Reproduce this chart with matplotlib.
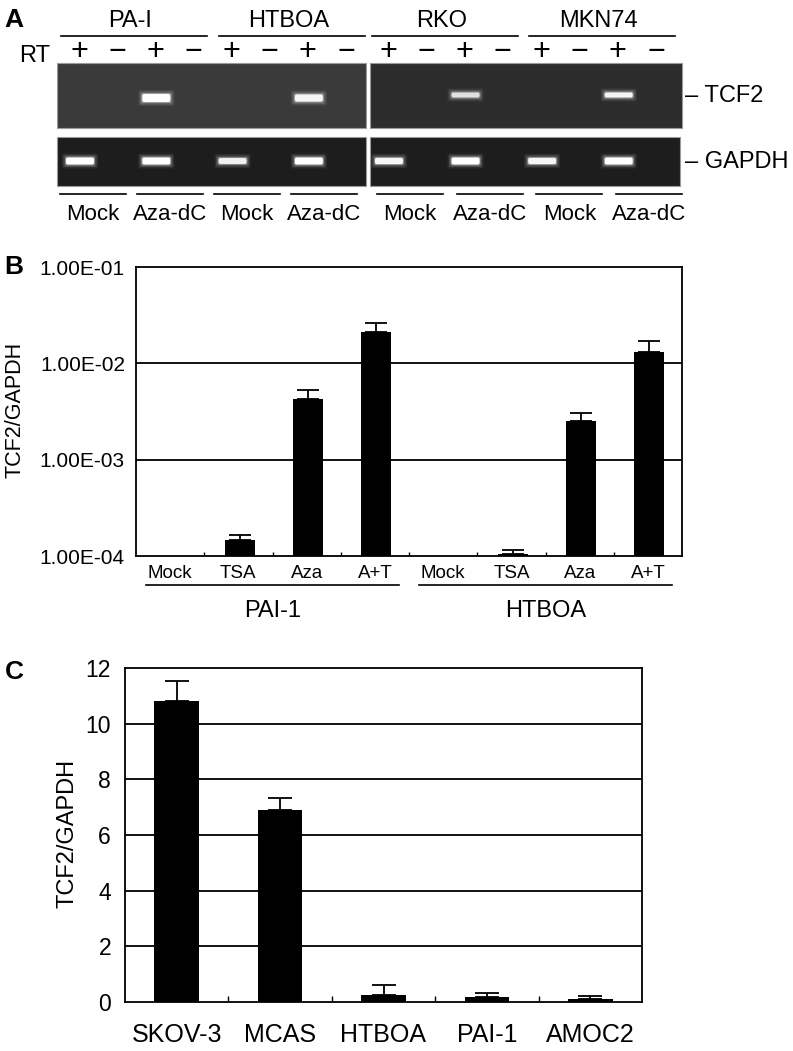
import numpy as np
import matplotlib
matplotlib.use("Agg")
import matplotlib.pyplot as plt
from matplotlib.patches import Rectangle, FancyBboxPatch

plt.rcParams['font.family'] = ['Liberation Sans', 'DejaVu Sans']

# ---- panel A: gel (band intensity per lane, 0 = no band) ----
gel_groups = ["PA-I", "HTBOA", "RKO", "MKN74"]
rt_signs = ["+", "\u2212", "+", "\u2212"] * 4
treat_labels = ["Mock", "Aza-dC"] * 4
tcf2_bands = [0, 0, 1.0, 0, 0, 0, 0.9, 0,
              0, 0, 0.7, 0, 0, 0, 0.9, 0]
gapdh_bands = [1.0, 0, 1.0, 0, 0.85, 0, 1.0, 0,
               0.9, 0, 1.0, 0, 0.9, 0, 1.0, 0]

# ---- panel B: TCF2/GAPDH after drug treatment (log scale) ----
b_treat = ["Mock", "TSA", "Aza", "A+T"]
b_lines = ["PAI-1", "HTBOA"]
b_pai1 = [0, 1.45e-4, 4.3e-3, 2.1e-2]
b_pai1_err = [0, 1.65e-4, 5.3e-3, 2.65e-2]
b_htboa = [0, 1.05e-4, 2.5e-3, 1.3e-2]
b_htboa_err = [0, 1.15e-4, 3.05e-3, 1.7e-2]

# ---- panel C: TCF2/GAPDH in cell lines ----
c_lines = ["SKOV-3", "MCAS", "HTBOA", "PAI-1", "AMOC2"]
c_vals = [10.8, 6.9, 0.25, 0.18, 0.1]
c_err_top = [11.55, 7.33, 0.6, 0.32, 0.22]

W, H = 793, 1051
fig = plt.figure(figsize=(W / 100, H / 100), dpi=100)


def box(x0, y0, x1, y1):
    return [x0 / W, 1 - y1 / H, (x1 - x0) / W, (y1 - y0) / H]


# overlay in pixel coords for the gel panel, letters and y labels
ov = fig.add_axes([0, 0, 1, 1])
ov.set_xlim(0, W)
ov.set_ylim(H, 0)
ov.axis("off")

# gel rectangles: (x0, x1, y0, y1, colour)
gels = [(57, 366, 63, 128, "#3a3a3a"), (370, 682, 63, 128, "#2c2c2c"),
        (57, 366, 137, 186, "#1d1d1d"), (370, 680, 137, 186, "#1d1d1d")]
for x0, x1, y0, y1, col in gels:
    ov.add_patch(Rectangle((x0, y0), x1 - x0, y1 - y0, facecolor=col,
                           edgecolor="#9a9a9a", lw=0.8))

left_lanes = np.linspace(79, 346, 8)
right_lanes = np.linspace(388, 656, 8)
lanes = np.concatenate([left_lanes, right_lanes])


def band(x, y, h, strength):
    # soft glow then bright core
    c = 0.6 + 0.4 * strength
    for grow, a in [(8, 0.08), (5, 0.15), (2, 0.35), (0, 1.0)]:
        ov.add_patch(FancyBboxPatch((x - 14 - grow / 2, y - h / 2 - grow / 2),
                                    28 + grow, h + grow,
                                    boxstyle="round,pad=0,rounding_size=2",
                                    facecolor=(c, c, c), edgecolor="none",
                                    alpha=a))


for i, s in enumerate(tcf2_bands):
    if s > 0:
        yb = 98 if i < 8 else 95
        band(lanes[i] + 1, yb, 8 * s if i < 8 else 5, s)
for i, s in enumerate(gapdh_bands):
    if s > 0:
        band(lanes[i] + 1, 161, 7 * s, s)

# cell line headers with underlines
head_centers = [133.5, 291.5, 445, 601.5]
for xc, name in zip(head_centers, gel_groups):
    ov.plot([xc - 73, xc + 73], [36, 36], color="black", lw=1.2)
    ov.text(xc - 3, 21, name, ha="center", va="center", fontsize=17)
for i, s in enumerate(rt_signs):
    ov.text(lanes[i], 52, s, ha="center", va="center", fontsize=22)
ov.text(35, 56, "RT", ha="center", va="center", fontsize=17)

# treatment labels under the gel
treat_centers = list(np.linspace(92.5, 324, 4)) + list(np.linspace(410, 649, 4))
for xc, name in zip(treat_centers, treat_labels):
    ov.plot([xc - 33, xc + 33], [194, 194], color="black", lw=1.2)
    ov.text(xc, 214, name, ha="center", va="center", fontsize=16)

ov.text(685, 96, "\u2013 TCF2", ha="left", va="center", fontsize=17)
ov.text(685, 162, "\u2013 GAPDH", ha="left", va="center", fontsize=17)

for letter, (lx, ly) in zip("ABC", [(14, 20), (14, 267), (14, 672)]):
    ov.text(lx, ly, letter, ha="center", va="center", fontsize=19,
            fontweight="bold")
ov.text(15, 410, "TCF2/GAPDH", rotation=90, ha="center", va="center",
        fontsize=15.5)
ov.text(68, 833, "TCF2/GAPDH", rotation=90, ha="center", va="center",
        fontsize=17)

# ---- panel B ----
ax_b = fig.add_axes(box(136, 267, 682, 556))
ax_b.set_yscale("log")
ax_b.set_xlim(-0.5, 7.5)
ax_b.set_ylim(1e-4, 1e-1)
vals_b = b_pai1 + b_htboa
errs_b = b_pai1_err + b_htboa_err
xb = np.arange(len(vals_b))
for x, v, e in zip(xb, vals_b, errs_b):
    if v <= 0:
        continue
    ax_b.bar(x + 0.02, v, width=0.44, color="black", zorder=3)
    ax_b.errorbar(x + 0.02, v, yerr=[[0], [e - v]], fmt="none", ecolor="black",
                  elinewidth=1.3, capsize=8, capthick=1.3, zorder=3)
for yv in [1e-3, 1e-2]:
    ax_b.axhline(yv, color="black", lw=1.3, zorder=1)
ax_b.set_yticks([1e-4, 1e-3, 1e-2, 1e-1])
ax_b.set_yticklabels(["1.00E-04", "1.00E-03", "1.00E-02", "1.00E-01"],
                     fontsize=15)
ax_b.yaxis.set_minor_locator(matplotlib.ticker.NullLocator())
ax_b.tick_params(axis="y", length=0, pad=8)
ax_b.set_xticks(np.arange(0.5, 7, 1))
ax_b.set_xticklabels([])
ax_b.tick_params(axis="x", direction="in", length=3, width=1)
for sp in ax_b.spines.values():
    sp.set_linewidth(1.3)
tb = ax_b.get_xaxis_transform()
for x, name in zip(xb, b_treat * 2):
    ax_b.text(x, -0.06, name, transform=tb, ha="center", va="center",
              fontsize=13.5)
for g, name in enumerate(b_lines):
    x0, x1 = g * 4 - 0.35, g * 4 + 3.35
    ax_b.plot([x0, x1], [-0.1, -0.1], transform=tb, color="black", lw=1.2,
              clip_on=False)
    ax_b.text(g * 4 + 1.5, -0.19, name, transform=tb, ha="center",
              va="center", fontsize=17)

# ---- panel C ----
ax_c = fig.add_axes(box(125, 668, 642, 1002))
ax_c.set_xlim(-0.5, 4.5)
ax_c.set_ylim(0, 12)
xc = np.arange(len(c_vals))
ax_c.bar(xc, c_vals, width=0.43, color="black", zorder=3)
ax_c.errorbar(xc, c_vals, yerr=[np.zeros(len(c_vals)),
                                np.array(c_err_top) - np.array(c_vals)],
              fmt="none", ecolor="black", elinewidth=1.3, capsize=8.5,
              capthick=1.3, zorder=3)
for yv in range(2, 12, 2):
    ax_c.axhline(yv, color="black", lw=1.3, zorder=1)
ax_c.set_yticks(range(0, 13, 2))
ax_c.tick_params(axis="y", length=0, pad=10, labelsize=16.5)
ax_c.set_xticks(np.arange(0.5, 4, 1))
ax_c.set_xticklabels([])
ax_c.tick_params(axis="x", direction="in", length=4, width=1)
for sp in ax_c.spines.values():
    sp.set_linewidth(1.3)
tc = ax_c.get_xaxis_transform()
for x, name in zip(xc, c_lines):
    ax_c.text(x, -0.1, name, transform=tc, ha="center", va="center",
              fontsize=18)

fig.savefig("out.png", dpi=100)
